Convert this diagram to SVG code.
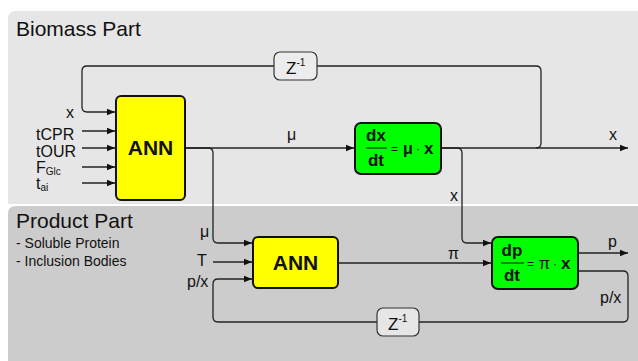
<svg xmlns="http://www.w3.org/2000/svg" width="638" height="361" viewBox="0 0 638 361">
<defs>
<marker id="arr" viewBox="0 0 8 8" refX="8" refY="4" markerWidth="8" markerHeight="8" markerUnits="userSpaceOnUse" orient="auto">
<path d="M0,0.8 L8,4 L0,7.2 Z" fill="#111"/>
</marker>
<style>
text{font-family:"Liberation Sans",Arial,sans-serif;fill:#111}
.lbl{font-size:16px}
.ttl{font-size:21px}
.sub{font-size:14px}
.ann{fill:#ffff00;stroke:#111;stroke-width:2}
.eq{fill:#00ff00;stroke:#111;stroke-width:2}
.z{stroke:#333;stroke-width:1.2}
.annt{font-size:21px;font-weight:bold;text-anchor:middle}
.b{font-weight:bold;font-size:17px}
.c{fill:none;stroke:#222;stroke-width:1.3}
</style>
</defs>
<rect x="0" y="0" width="638" height="361" fill="#fff"/>
<g id="biomass-panel">
<path d="M8,204 V19 Q8,11 16,11 H638 V204 Z" fill="#e6e6e6"/>
<text class="ttl" x="16" y="36">Biomass Part</text>
</g>
<g id="product-panel">
<path d="M8,361 V214 Q8,206 16,206 H638 V361 Z" fill="#cccccc"/>
<text class="ttl" x="16" y="228">Product Part</text>
<text class="sub" x="16" y="248">- Soluble Protein</text>
<text class="sub" x="16" y="266">- Inclusion Bodies</text>
</g>
<g id="connectors">
<path class="c" d="M536,148 Q541,148 541,143 V71 Q541,66 536,66 H317 M274,66 H87 Q82,66 82,71 V107 Q82,112 87,112 H115" marker-end="url(#arr)"/>
<path class="c" d="M82,131 H115" marker-end="url(#arr)"/>
<path class="c" d="M82,148 H115" marker-end="url(#arr)"/>
<path class="c" d="M82,167 H115" marker-end="url(#arr)"/>
<path class="c" d="M82,183 H115" marker-end="url(#arr)"/>
<path class="c" d="M186,148 H354" marker-end="url(#arr)"/>
<path class="c" d="M186,148 H208 Q213,148 213,153 V238 Q213,243 218,243 H252" marker-end="url(#arr)"/>
<path class="c" d="M213,262 H252" marker-end="url(#arr)"/>
<path class="c" d="M377,322 H218 Q213,322 213,317 V284 Q213,279 218,279 H252" marker-end="url(#arr)"/>
<path class="c" d="M442,148 H628" marker-end="url(#arr)"/>
<path class="c" d="M442,148 H457 Q462,148 462,153 V238 Q462,243 467,243 H491" marker-end="url(#arr)"/>
<path class="c" d="M339,263 H491" marker-end="url(#arr)"/>
<path class="c" d="M579,253 H628" marker-end="url(#arr)"/>
<path class="c" d="M579,271 H623 Q628,271 628,276 V317 Q628,322 623,322 H419"/>
</g>
<g id="labels">
<text class="lbl" x="66" y="118">x</text>
<text class="lbl" x="36" y="140">tCPR</text>
<text class="lbl" x="36" y="157">tOUR</text>
<text class="lbl" x="36" y="173">F<tspan font-size="10" dy="2">Glc</tspan></text>
<text class="lbl" x="36" y="189">t<tspan font-size="10" dy="2">ai</tspan></text>
<text class="lbl" x="287" y="140">μ</text>
<text class="lbl" x="609" y="140">x</text>
<text class="lbl" x="450" y="201">x</text>
<text class="lbl" x="200" y="237">μ</text>
<text class="lbl" x="197" y="266">T</text>
<text class="lbl" x="187" y="287">p/x</text>
<text class="lbl" x="448" y="259">π</text>
<text class="lbl" x="608" y="247">p</text>
<text class="lbl" x="600" y="303">p/x</text>
</g>
<g id="z1">
<rect class="z" x="274" y="52" width="43" height="28" rx="6" fill="#ececec"/>
<text x="286" y="74" font-size="17">Z<tspan font-size="10" dy="-8">-1</tspan></text>
</g>
<g id="ann1">
<rect class="ann" x="116" y="96" width="69" height="104" rx="5"/>
<text class="annt" x="150.5" y="155">ANN</text>
</g>
<g id="dxdt">
<rect class="eq" x="355" y="123" width="86" height="51" rx="6"/>
<text class="b" x="376" y="141" text-anchor="middle">dx</text>
<line x1="366" y1="148" x2="387" y2="148" stroke="#111" stroke-width="1"/>
<text class="b" x="376" y="166" text-anchor="middle">dt</text>
<text x="391" y="153" font-size="12">=</text>
<text x="403" y="154" font-size="16" font-weight="bold">μ</text>
<text x="416" y="153" font-size="12">·</text>
<text class="b" x="424" y="154">x</text>
</g>
<g id="ann2">
<rect class="ann" x="253" y="237" width="85" height="51" rx="5"/>
<text class="annt" x="295.5" y="270">ANN</text>
</g>
<g id="dpdt">
<rect class="eq" x="492" y="237" width="86" height="52" rx="6"/>
<text class="b" x="512" y="256" text-anchor="middle">dp</text>
<line x1="501" y1="263" x2="524" y2="263" stroke="#111" stroke-width="1"/>
<text class="b" x="512" y="281" text-anchor="middle">dt</text>
<text x="527" y="268" font-size="12">=</text>
<text x="539" y="269" font-size="16">π</text>
<text x="553" y="268" font-size="12">·</text>
<text class="b" x="561" y="269">x</text>
</g>
<g id="z2">
<rect class="z" x="377" y="308" width="42" height="28" rx="6" fill="#e6e6e6"/>
<text x="388" y="330" font-size="17">Z<tspan font-size="10" dy="-8">-1</tspan></text>
</g>
</svg>
